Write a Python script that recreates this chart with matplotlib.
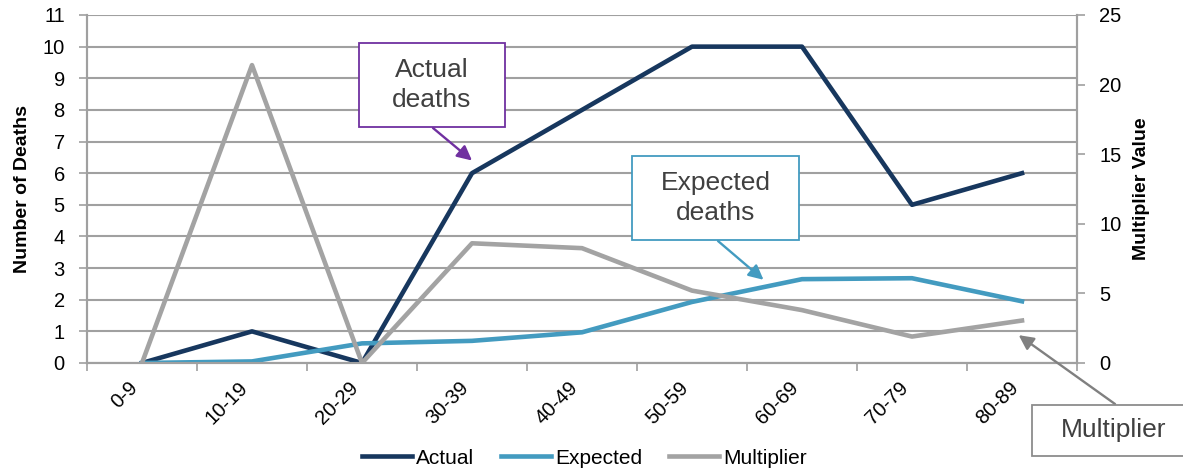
import numpy as np
import matplotlib
matplotlib.use('Agg')
import matplotlib.pyplot as plt
from matplotlib.patches import Rectangle

plt.rcParams['font.family'] = ['Liberation Sans', 'DejaVu Sans']

# deaths by age band
age_groups = ['0-9', '10-19', '20-29', '30-39', '40-49', '50-59', '60-69', '70-79', '80-89']
actual = [0, 1, 0, 6, 8, 10, 10, 5, 6]
expected = [0, 0.05, 0.62, 0.70, 0.97, 1.93, 2.65, 2.68, 1.95]
multiplier = [0, 21.4, 0, 8.6, 8.25, 5.2, 3.8, 1.9, 3.05]

navy = '#17375E'
teal = '#439BC0'
grey = '#A3A3A3'
grid_grey = '#A0A0A0'
text_grey = '#404040'

W, H = 1183, 471
fig = plt.figure(figsize=(W / 100, H / 100), dpi=100)
ax = fig.add_axes([87 / W, 1 - 363 / H, 990 / W, 348 / H])
ax2 = ax.twinx()

x = np.arange(len(age_groups))
l1, = ax.plot(x, actual, color=navy, lw=3.3, label='Actual', zorder=3)
l2, = ax.plot(x, expected, color=teal, lw=3.3, label='Expected', zorder=3)
l3, = ax2.plot(x, multiplier, color=grey, lw=3.3, label='Multiplier', zorder=3)

ax.set_xlim(-0.5, len(age_groups) - 0.5)
ax.set_ylim(0, 11)
ax.set_yticks(range(0, 12))
ax2.set_ylim(0, 25)
ax2.set_yticks(range(0, 26, 5))

ax.set_xticks(x)
ax.set_xticklabels(age_groups, rotation=45, ha='right', fontsize=14.5)
ax.set_xticks(np.arange(-0.5, len(age_groups), 1), minor=True)
ax.tick_params(axis='x', which='major', length=0, pad=11)
ax.tick_params(axis='x', which='minor', length=6, width=1.2, color=grid_grey)
ax.tick_params(axis='y', length=6, width=1.2, color=grid_grey, labelsize=14.5, pad=10)
ax2.tick_params(axis='y', length=6, width=1.2, color=grid_grey, labelsize=14.5, pad=10)

ax.yaxis.grid(True, color=grid_grey, lw=1.5)
ax.set_axisbelow(True)

for a in (ax, ax2):
    a.spines['top'].set_visible(False)
    for s in ('left', 'right', 'bottom'):
        a.spines[s].set_color(grid_grey)
        a.spines[s].set_linewidth(1.5)

ax.set_ylabel('Number of Deaths', fontsize=14, fontweight='bold')
ax.yaxis.set_label_coords(-0.0566, 0.5)
ax2.set_ylabel('Multiplier Value', fontsize=14, fontweight='bold')
ax2.yaxis.set_label_coords(1.0566, 0.5)

fig.legend([l1, l2, l3], ['Actual', 'Expected', 'Multiplier'], loc='center',
           bbox_to_anchor=(0.494, 1 - 458 / H), ncol=3, frameon=False, fontsize=15,
           handlelength=2.4, handletextpad=0.2, columnspacing=1.3)


def callout(x0, y0, x1, y1, label, edge):
    # box drawn in figure pixels (top-left origin)
    fig.patches.append(Rectangle((x0 / W, 1 - y1 / H), (x1 - x0) / W, (y1 - y0) / H,
                                 transform=fig.transFigure, facecolor='white',
                                 edgecolor=edge, lw=1.3, zorder=5))
    fig.text((x0 + x1) / 2 / W, 1 - (y0 + y1) / 2 / H, label, ha='center', va='center',
             fontsize=19, color=text_grey, linespacing=1.3, zorder=6)


callout(359, 43, 505, 127, 'Actual\ndeaths', '#7030A0')
callout(632, 156, 799, 240, 'Expected\ndeaths', teal)
callout(1032, 405, 1196, 456, 'Multiplier', '#8C8C8C')

arrow_kw = dict(arrowstyle='-|>', lw=1.7, mutation_scale=22, shrinkA=0, shrinkB=0)
ax.annotate('', xy=(3.0, 6.4), xytext=(433 / W, 1 - 128 / H),
            textcoords='figure fraction',
            arrowprops=dict(color='#7030A0', **arrow_kw), annotation_clip=False)
ax.annotate('', xy=(5.65, 2.63), xytext=(718 / W, 1 - 241 / H),
            textcoords='figure fraction',
            arrowprops=dict(color=teal, **arrow_kw), annotation_clip=False)
ax2.annotate('', xy=(7.97, 2.0), xytext=(1115 / W, 1 - 404 / H),
             textcoords='figure fraction',
             arrowprops=dict(color='#808080', **arrow_kw), annotation_clip=False)

fig.savefig('out.png', dpi=100)
